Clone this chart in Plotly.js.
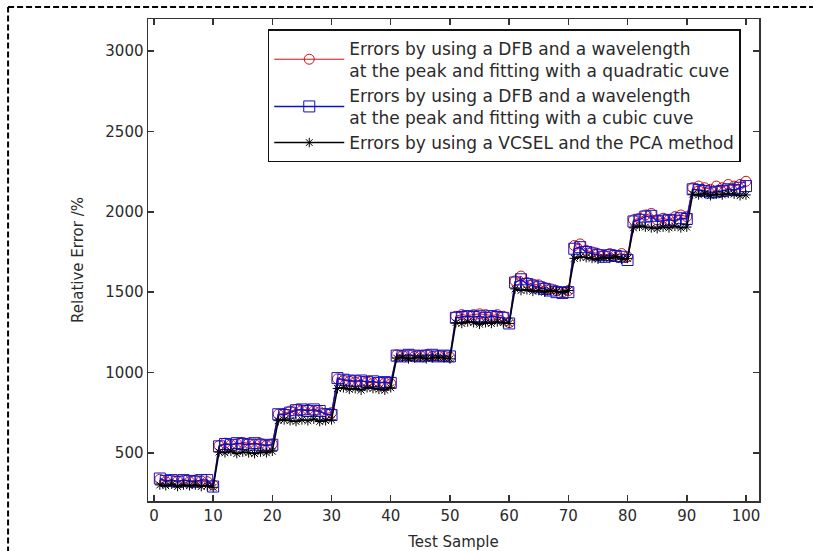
<!DOCTYPE html>
<html>
<head>
<meta charset="utf-8">
<script src="https://cdn.plot.ly/plotly-3.0.1.min.js"></script>
<style>
html,body{margin:0;padding:0;background:#fff;}
#chart{width:813px;height:551px;}
</style>
</head>
<body>
<div id="chart"></div>
<script>
// Test sample index 1..100
const samples = [];
for (let i = 1; i <= 100; i++) samples.push(i);

// DFB, peak wavelength, quadratic fitting (red circles)
const quadErr = [
  335, 320, 330, 325, 330, 320, 330, 325, 320, 300,
  545, 560, 550, 555, 565, 560, 555, 560, 545, 555,
  740, 745, 760, 770, 765, 770, 760, 755, 745, 750,
  960, 950, 945, 940, 945, 940, 935, 940, 935, 930,
  1110, 1105, 1110, 1100, 1105, 1110, 1100, 1105, 1100, 1095,
  1350, 1360, 1355, 1360, 1365, 1360, 1355, 1360, 1350, 1310,
  1570, 1600, 1560, 1550, 1545, 1530, 1520, 1510, 1500, 1510,
  1790, 1800, 1760, 1750, 1740, 1730, 1740, 1730, 1740, 1720,
  1950, 1960, 1980, 1990, 1950, 1960, 1950, 1970, 1980, 1970,
  2150, 2160, 2150, 2140, 2160, 2150, 2170, 2160, 2170, 2190
];

// DFB, peak wavelength, cubic fitting (blue squares)
const cubicErr = [
  340, 325, 330, 320, 330, 325, 320, 330, 330, 290,
  540, 555, 550, 560, 555, 550, 560, 550, 545, 550,
  740, 735, 750, 765, 770, 760, 770, 760, 740, 735,
  965, 955, 950, 945, 950, 940, 945, 935, 940, 935,
  1105, 1100, 1110, 1105, 1100, 1105, 1110, 1100, 1105, 1100,
  1340, 1345, 1350, 1345, 1350, 1340, 1350, 1345, 1340, 1305,
  1560, 1580, 1550, 1540, 1530, 1520, 1510, 1500, 1495, 1500,
  1770, 1780, 1750, 1740, 1730, 1720, 1730, 1725, 1720, 1700,
  1940, 1950, 1970, 1975, 1940, 1945, 1950, 1945, 1960, 1955,
  2140, 2135, 2130, 2120, 2125, 2130, 2140, 2135, 2150, 2160
];

// VCSEL + PCA (black stars)
const pcaErr = [
  300, 295, 305, 290, 300, 295, 300, 290, 295, 285,
  505, 500, 510, 495, 505, 500, 495, 505, 500, 510,
  700, 705, 700, 695, 705, 700, 710, 695, 700, 705,
  900, 905, 895, 900, 890, 905, 900, 895, 890, 905,
  1090, 1095, 1085, 1090, 1095, 1085, 1090, 1095, 1090, 1085,
  1310, 1305, 1315, 1310, 1300, 1310, 1305, 1315, 1310, 1305,
  1520, 1510, 1515, 1505, 1510, 1500, 1510, 1505, 1500, 1510,
  1710, 1720, 1715, 1710, 1705, 1715, 1710, 1720, 1705, 1710,
  1900, 1910, 1905, 1900, 1895, 1905, 1900, 1910, 1900, 1905,
  2110, 2105, 2115, 2100, 2110, 2105, 2115, 2110, 2100, 2105
];

const seriesNames = [
  "Errors by using a DFB and a wavelength<br>at the peak and fitting with a quadratic cuve",
  "Errors by using a DFB and a wavelength<br>at the peak and fitting with a cubic cuve",
  "Errors by using a VCSEL and the PCA method"
];

const xTicks = [0, 10, 20, 30, 40, 50, 60, 70, 80, 90, 100];
const yTicks = [500, 1000, 1500, 2000, 2500, 3000];

const FONT = "DejaVu Sans, Verdana, sans-serif";
const INK = "#2a2a2a";

const traces = [
  {
    x: samples, y: quadErr, name: seriesNames[0], type: "scatter", mode: "lines+markers",
    line: {color: "#d01010", width: 1},
    marker: {symbol: "circle-open", size: 10, color: "#d01010", line: {width: 1}}
  },
  {
    x: samples, y: cubicErr, name: seriesNames[1], type: "scatter", mode: "lines+markers",
    line: {color: "#1010c8", width: 1.5},
    marker: {symbol: "square-open", size: 11, color: "#1010c8", line: {width: 1}}
  },
  {
    x: samples, y: pcaErr, name: seriesNames[2], type: "scatter", mode: "lines+markers",
    line: {color: "#000", width: 1.5},
    marker: {symbol: "asterisk-open", size: 8, color: "#000", line: {width: 1, color: "#000"}}
  }
];

const layout = {
  width: 813, height: 551,
  margin: {l: 148, r: 54, t: 19, b: 50, pad: 0},
  paper_bgcolor: "#fff", plot_bgcolor: "#fff",
  font: {family: FONT, size: 15, color: INK},
  showlegend: true,
  legend: {
    x: 0.196, y: 0.979, xanchor: "left", yanchor: "top",
    bgcolor: "#fff", bordercolor: "#111", borderwidth: 1.5,
    font: {family: FONT, size: 17, color: INK},
    tracegroupgap: 0, itemwidth: 70
  },
  xaxis: {
    range: [-1, 102.2], tickvals: xTicks, ticktext: xTicks.map(String),
    ticks: "inside", ticklen: 6, tickcolor: "#333", tickwidth: 1.5,
    showline: true, linecolor: "#333", linewidth: 1.5, mirror: "ticks",
    showgrid: false, zeroline: false,
    tickfont: {family: FONT, size: 15, color: INK},
    title: {text: "Test Sample", font: {family: FONT, size: 15, color: INK}, standoff: 14}
  },
  yaxis: {
    range: [200, 3200], tickvals: yTicks, ticktext: yTicks.map(String),
    ticks: "inside", ticklen: 6, tickcolor: "#333", tickwidth: 1.5,
    showline: true, linecolor: "#333", linewidth: 1.5, mirror: "ticks",
    showgrid: false, zeroline: false,
    tickfont: {family: FONT, size: 15, color: INK},
    title: {text: "Relative Error /%", font: {family: FONT, size: 15, color: INK}, standoff: 18}
  },
  shapes: [
    {type: "line", xref: "paper", yref: "paper", x0: -0.229, x1: -0.229, y0: -0.2, y1: 1.025,
     line: {color: "#000", width: 2, dash: "6px,3px"}},
    {type: "line", xref: "paper", yref: "paper", x0: -0.229, x1: 1.1, y0: 1.025, y1: 1.025,
     line: {color: "#000", width: 2, dash: "6px,3px"}}
  ]
};

Plotly.newPlot("chart", traces, layout, {displayModeBar: false, staticPlot: true});
</script>
</body>
</html>
